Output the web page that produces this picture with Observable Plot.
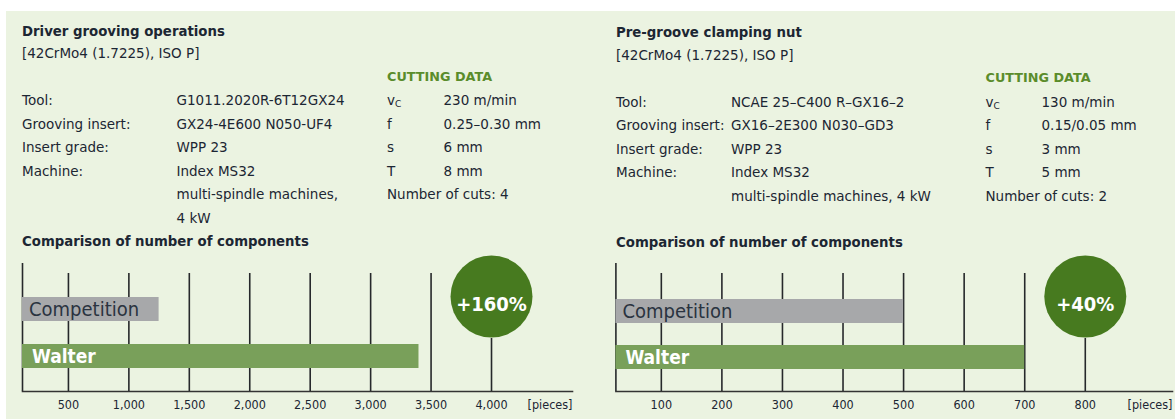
<!DOCTYPE html>
<html><head><meta charset="utf-8">
<script src="https://cdn.jsdelivr.net/npm/d3@7"></script>
<script src="https://cdn.jsdelivr.net/npm/@observablehq/plot@0.6"></script>
<style>
body{margin:0;background:#fff;width:1175px;height:419px;overflow:hidden;position:relative;font-family:"DejaVu Sans",sans-serif;color:#1c2633}
#bg{position:absolute;left:6px;top:11px;width:1169px;height:408px;background:#ebf3e1}
.t{position:absolute;white-space:nowrap;line-height:20px;height:20px;font-size:13.5px}
.b{font-weight:bold;font-size:13.3px}
.g{color:#5a8c2b;font-weight:bold;font-size:12.8px}
.chart{position:absolute;top:250px}
sub{font-size:9px;vertical-align:-2px;text-transform:uppercase}
</style></head><body><div id="bg"></div>
<script>
// ---- data ----
const panelTitles = ["Driver grooving operations", "Pre-groove clamping nut"];
const materials = ["[42CrMo4 (1.7225), ISO P]", "[42CrMo4 (1.7225), ISO P]"];
const specLabels = ["Tool:", "Grooving insert:", "Insert grade:", "Machine:"];
const leftSpecValues = ["G1011.2020R-6T12GX24", "GX24-4E600 N050-UF4", "WPP 23", "Index MS32", "multi-spindle machines,", "4 kW"];
const rightSpecValues = ["NCAE 25–C400 R–GX16–2", "GX16–2E300 N030–GD3", "WPP 23", "Index MS32", "multi-spindle machines, 4 kW"];
const cuttingTitle = "CUTTING DATA";
const cuttingSymbols = ["v<sub>c</sub>", "f", "s", "T"];
const leftCutting = ["230 m/min", "0.25–0.30 mm", "6 mm", "8 mm"];
const rightCutting = ["130 m/min", "0.15/0.05 mm", "3 mm", "5 mm"];
const leftCuts = "Number of cuts: 4";
const rightCuts = "Number of cuts: 2";
const comparisonTitle = "Comparison of number of components";

const categories = ["Competition", "Walter"];
const leftValues = [1250, 3400];
const rightValues = [500, 700];
const leftTicks = [500, 1000, 1500, 2000, 2500, 3000, 3500, 4000];
const rightTicks = [100, 200, 300, 400, 500, 600, 700, 800];
const leftDomain = [120, 4670];
const rightDomain = [25, 944];
const gains = ["+160%", "+40%"];
const gainTicks = [4000, 800];
const unitLabel = "[pieces]";
const barColors = ["#a7a8aa", "#79a05a"];

// ---- text blocks ----
function addText(x, y, html, cls) {
  const d = document.createElement("div");
  d.className = "t " + (cls || "");
  d.style.left = x + "px";
  d.style.top = (y - 10) + "px";
  d.innerHTML = html;
  document.body.appendChild(d);
}
const layouts = [
  {x0: 22, x1: 176.5, x2: 387, x3: 443.5, yT: 31.7, yS: 53.3, yC: 77.3, yR: 100, yCmp: 241.7, specValues: leftSpecValues, cutting: leftCutting, cuts: leftCuts},
  {x0: 616, x1: 731, x2: 985.5, x3: 1041.5, yT: 33.3, yS: 55, yC: 78.3, yR: 101.7, yCmp: 242.7, specValues: rightSpecValues, cutting: rightCutting, cuts: rightCuts}
];
const rowH = 23.5;
layouts.forEach((L, p) => {
  addText(L.x0, L.yT, panelTitles[p], "b");
  addText(L.x0, L.yS, materials[p]);
  addText(L.x2, L.yC, cuttingTitle, "g");
  specLabels.forEach((s, i) => addText(L.x0, L.yR + i * rowH, s));
  L.specValues.forEach((s, i) => addText(L.x1, L.yR + i * rowH, s));
  cuttingSymbols.forEach((s, i) => addText(L.x2, L.yR + i * rowH, s));
  L.cutting.forEach((s, i) => addText(L.x3, L.yR + i * rowH, s));
  addText(L.x2, L.yR + 4 * rowH, L.cuts);
  addText(L.x0, L.yCmp, comparisonTitle, "b");
});

// ---- charts ----
const fmt = d3.format(",");
const font = '"DejaVu Sans Condensed", "DejaVu Sans", sans-serif';
function chart(o) {
  const rows = categories.map((name, i) => ({name, value: o.values[i]}));
  const line = {stroke: "#26282b", strokeWidth: 1.6};
  return Plot.plot({
    width: o.width, height: 169,
    marginTop: 23, marginBottom: 28, marginLeft: o.marginLeft, marginRight: o.marginRight,
    x: {domain: o.domain, axis: null},
    y: {type: "band", domain: categories, range: o.bandRange, paddingInner: o.paddingInner, paddingOuter: 0, axis: null},
    color: {domain: categories, range: barColors},
    style: {fontFamily: font, background: "transparent", overflow: "visible"},
    marks: [
      Plot.ruleX([o.domain[0]], {...line, insetTop: -10}),
      Plot.ruleX(o.ticks.filter(t => t !== o.gainAt), line),
      Plot.ruleX([o.gainAt], {...line, insetTop: 65}),
      Plot.barX(rows, {x: "value", y: "name", fill: "name", clip: true}),
      Plot.text(rows.filter(r => r.name === "Competition"), {y: "name", text: "name", frameAnchor: "left", textAnchor: "start", dx: 6.5, fontSize: 20, fill: "#2a3340"}),
      Plot.text(rows.filter(r => r.name === "Walter"), {y: "name", text: "name", frameAnchor: "left", textAnchor: "start", dx: 9.5, fontSize: 19, fontWeight: "bold", fill: "white"}),
      Plot.frame({anchor: "bottom", stroke: "#333", strokeWidth: 1.6}),
      Plot.text(o.ticks, {x: d => d, frameAnchor: "bottom", dy: 17.3, text: d => fmt(d), fontSize: 12.5, fill: "#1c2633"}),
      Plot.text([unitLabel], {frameAnchor: "bottom-right", textAnchor: "end", dy: 17.3, fontSize: 12.5, fill: "#1c2633"}),
      Plot.dot([o.gainAt], {x: d => d, frameAnchor: "top", dy: 23, r: 41, fill: "#477a1f", stroke: "none"}),
      Plot.text([o.gain], {x: () => o.gainAt, frameAnchor: "top", dy: 23, fontSize: 20, fontWeight: "bold", fill: "white"})
    ]
  });
}
const c1 = chart({width: 590, marginLeft: 22, marginRight: 18, domain: leftDomain, ticks: leftTicks, values: leftValues,
  gain: gains[0], gainAt: gainTicks[0], bandRange: [46.7, 118.2], paddingInner: 0.495});
c1.classList.add("chart"); c1.style.left = "0px";
document.body.appendChild(c1);
const c2 = chart({width: 585, marginLeft: 25.4, marginRight: 3, domain: rightDomain, ticks: rightTicks, values: rightValues,
  gain: gains[1], gainAt: gainTicks[1], bandRange: [48.3, 119.2], paddingInner: 0.488});
c2.classList.add("chart"); c2.style.left = "590px";
document.body.appendChild(c2);
</script></body></html>
